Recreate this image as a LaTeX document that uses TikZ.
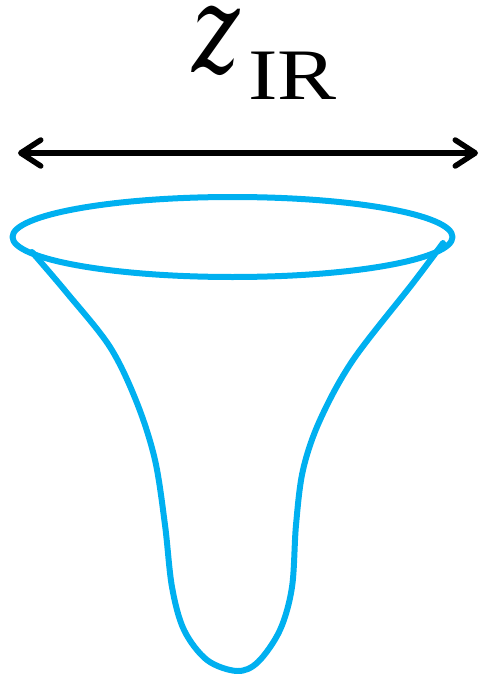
\documentclass[tikz,border=0pt]{standalone}
\usepackage{fontspec}
\setmainfont{Liberation Serif}
\newfontfamily\zfont{DejaVu Serif}
\usetikzlibrary{arrows.meta,shapes.geometric}
\definecolor{funnel}{RGB}{0,176,240}
\tikzset{
  funnelline/.style={draw=funnel, line width=6pt, line join=round, line cap=round},
  barbtip/.tip={Straight Barb[length=20pt,width=26pt,line cap=round,line join=round]},
  widtharrow/.style={draw=black, line width=5.5pt, {barbtip}-{barbtip}},
}
\begin{document}
\begin{tikzpicture}[x=1pt,y=-1pt]
\useasboundingbox (0,0) rectangle (482,674);
\node[anchor=base, inner sep=0pt, font=\fontsize{122}{122}\selectfont\zfont\itshape] (z) at (216,73) {\scalebox{0.74}[1]{z}};
\node[anchor=base west, inner sep=0pt, font=\fontsize{72.5}{72.5}\selectfont] (ir) at (248,100) {\scalebox{1.22}[1]{IR}};
\coordinate (aL) at (18,153);
\coordinate (aR) at (478,153);
\draw[widtharrow] (aL) -- (aR);
\node[funnelline, ellipse, minimum width=440pt, minimum height=80pt, inner sep=0pt] (rim) at (232.5,237) {};
\draw[funnelline] plot[smooth, tension=0.55] coordinates {(32,252)(67,293)(110,347)(137,403)(155,460)(165,525)(172,587)(184,630)(207,660)(237,671)(258,662)(280,630)(292,587)(296,525)(303,470)(320,420)(353,360)(413,283)(443,243)};
\end{tikzpicture}
\end{document}
